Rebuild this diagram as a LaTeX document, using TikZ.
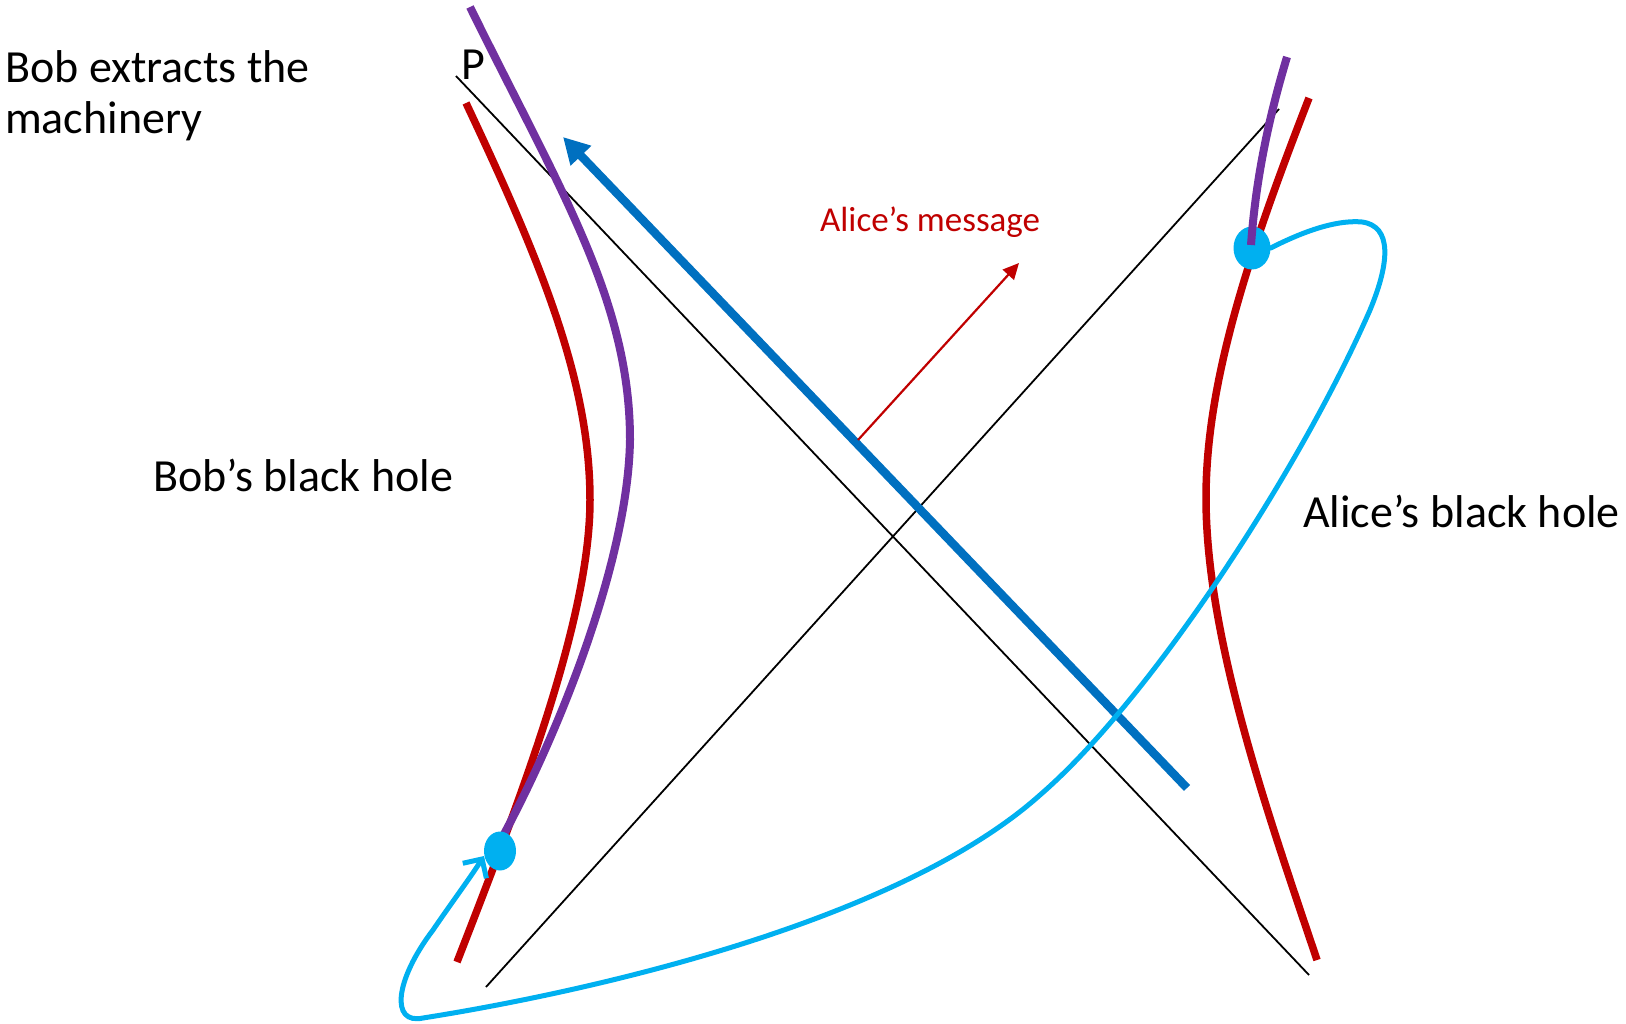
\documentclass[tikz,border=0pt]{standalone}
\usepackage{fontspec}
\setmainfont{Carlito}
\usetikzlibrary{arrows.meta,shapes.geometric}
\definecolor{hred}{HTML}{C00000}
\definecolor{hpurple}{HTML}{7030A0}
\definecolor{hblue}{HTML}{0070C0}
\definecolor{hcyan}{HTML}{00B0F0}
\tikzset{
  horizon/.style={line width=7.5pt, hred},
  traj/.style={line width=8pt, hpurple},
  diag/.style={line width=1.8pt, black},
  loopline/.style={line width=5pt, hcyan, line cap=round},
  dotnode/.style={ellipse, fill=hcyan, inner sep=0pt},
  bigtext/.style={font=\fontsize{46}{51}\selectfont, inner sep=0pt, anchor=base west, align=left},
  msgtext/.style={font=\fontsize{35}{40}\selectfont, text=hred, inner sep=0pt, anchor=base west}
}
\begin{document}
\begin{tikzpicture}[x=1pt,y=-1pt]
\useasboundingbox (0,0) rectangle (1626,1024);
% diagonal lines
\coordinate (d1s) at (456,76);
\coordinate (d1e) at (1309,975);
\coordinate (d2s) at (486,987);
\coordinate (d2e) at (1279,109);
\draw[diag] (d1s) -- (d1e);
\draw[diag] (d2s) -- (d2e);
% red horizons
\draw[horizon] (466,103) .. controls (540,260) and (590,380) .. (590,500)
                         .. controls (590,620) and (520,800) .. (457,962);
\draw[horizon] (1309,98) .. controls (1250,250) and (1206,380) .. (1206,498)
                         .. controls (1206,640) and (1270,820) .. (1317,960);
% right dot
\node[dotnode, minimum width=37pt, minimum height=43pt] (adot) at (1252,248) {};
% purple trajectories
\draw[traj] (470,7) .. controls (560,190) and (630,300) .. (630,440)
                    .. controls (628,560) and (560,730) .. (503,836);
\draw[traj] (1287,57) .. controls (1265,130) and (1255,190) .. (1251,245);
% left dot
\node[dotnode, minimum width=32pt, minimum height=39pt] (bdot) at (500,851) {};
% blue arrow
\coordinate (bstart) at (1187,788);
\coordinate (btip) at (563,137);
\draw[line width=8.5pt, hblue, -{Triangle[length=26pt,width=27pt]}] (bstart) -- (btip);
% Alice's message arrow
\coordinate (mstart) at (858,440);
\coordinate (mtip) at (1019,263);
\draw[line width=2.2pt, hred, -{Triangle[length=16pt,width=15pt]}] (mstart) -- (mtip);
% cyan loop
\coordinate (lp1) at (1362,222);
\coordinate (lp2) at (1370,310);
\coordinate (lp3) at (1040,795);
\coordinate (lp4) at (423,1018);
\coordinate (lp5) at (433,930);
\coordinate (ltip) at (484,856);
\draw[loopline, -{Straight Barb[length=14pt,width=28pt]}]
  (adot.east) .. controls (1310,228) and (1340,220) .. (lp1)
  .. controls (1392,226) and (1390,262) .. (lp2)
  .. controls (1300,470) and (1150,700) .. (lp3)
  .. controls (900,920) and (600,990) .. (lp4)
  .. controls (390,1025) and (395,980) .. (lp5)
  .. controls (450,905) and (470,878) .. (ltip);
% texts
\node[bigtext] (t1) at (5,134) {Bob extracts the\\machinery};
\node[bigtext] (t2) at (153,491) {Bob’s black hole};
\node[bigtext] (t3) at (1303,527) {Alice’s black hole};
\node[bigtext] (tp) at (461,80) {P};
\node[msgtext] (tm) at (820,232) {Alice’s message};
\end{tikzpicture}
\end{document}
